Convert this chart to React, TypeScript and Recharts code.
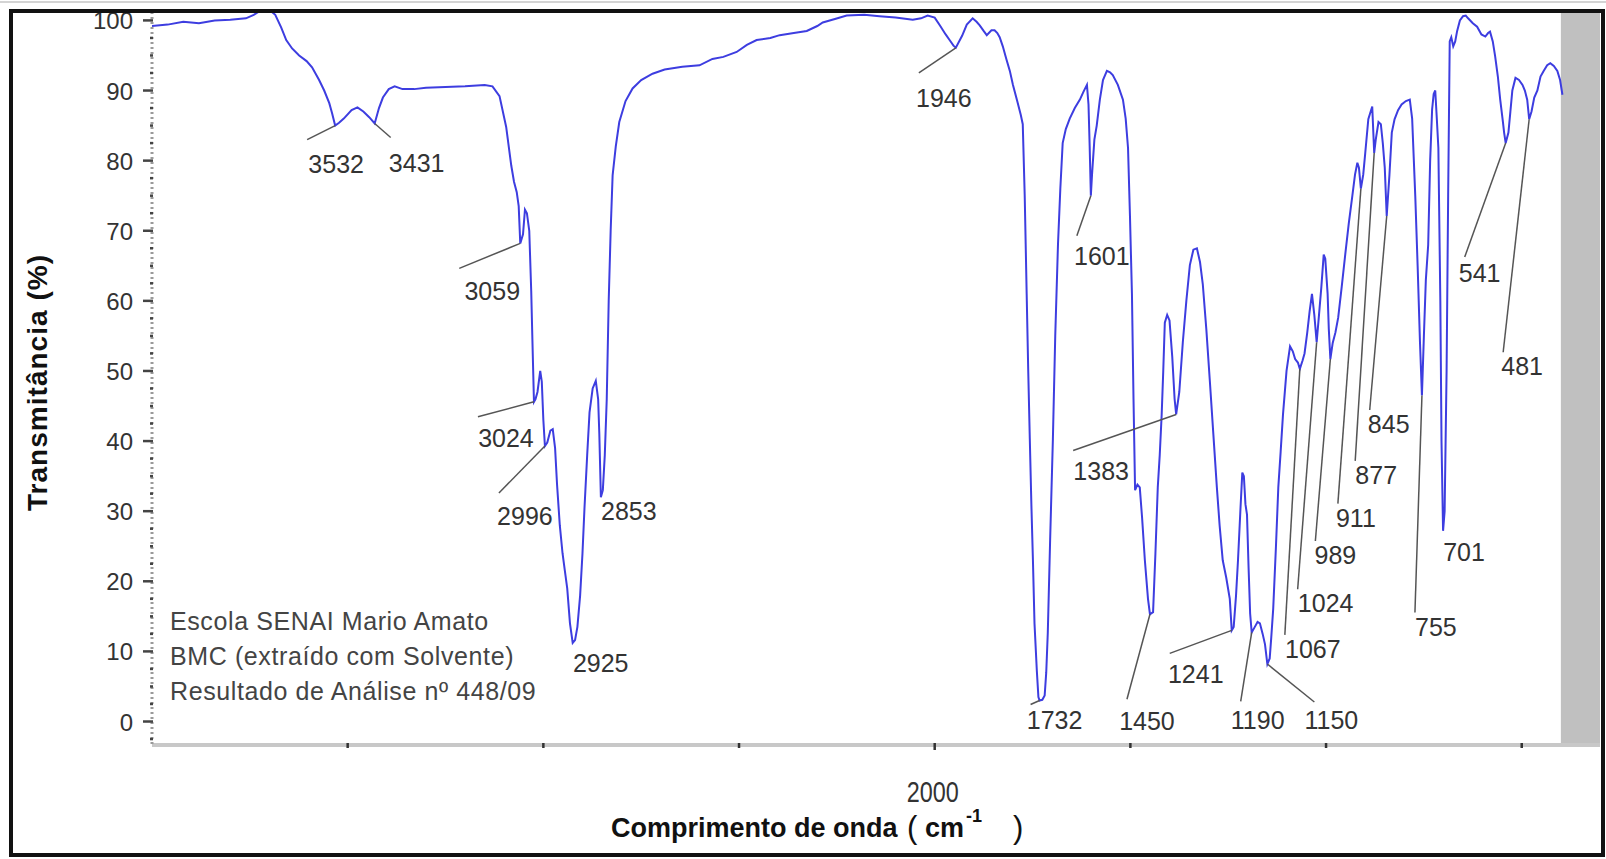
import React from "react";
import { ComposedChart, Line, Scatter, XAxis, YAxis, ReferenceArea } from "recharts";

// [wavenumber cm-1, transmittance %]
const spectrum: [number, number][] = [
  [4000, 99.2], [3960, 99.4], [3920, 99.8], [3880, 99.6], [3840, 100.0], [3800, 100.1], [3760, 100.3],
  [3740, 100.8], [3720, 101.5], [3700, 101.5], [3685, 100.8], [3670, 99.0], [3657, 97.2], [3642, 96.0],
  [3624, 95.0], [3605, 94.2], [3591, 93.3], [3573, 91.5], [3560, 90.0], [3547, 88.2], [3540, 86.8],
  [3532, 85.0], [3522, 85.4], [3510, 86.0], [3490, 87.2], [3475, 87.6], [3460, 87.0], [3445, 86.2],
  [3431, 85.3], [3420, 87.5], [3410, 89.0], [3395, 90.2], [3380, 90.6], [3360, 90.2], [3330, 90.2],
  [3300, 90.4], [3250, 90.5], [3200, 90.6], [3150, 90.8], [3130, 90.6], [3112, 89.2], [3095, 84.8],
  [3082, 79.3], [3075, 77.0], [3068, 75.5], [3063, 73.5], [3059, 68.2], [3052, 69.5], [3047, 73.0],
  [3042, 72.5], [3036, 70.0], [3031, 61.4], [3028, 54.5], [3024, 45.6], [3020, 46.0], [3015, 47.0],
  [3008, 50.0], [3004, 48.5], [3000, 43.0], [2996, 39.3], [2990, 39.8], [2982, 41.5], [2976, 41.7],
  [2970, 39.0], [2965, 33.8], [2958, 28.0], [2951, 24.0], [2945, 21.5], [2939, 19.0], [2932, 14.0],
  [2925, 11.2], [2919, 11.6], [2913, 13.5], [2906, 18.0], [2900, 24.0], [2895, 30.3], [2888, 38.0],
  [2882, 44.1], [2874, 47.5], [2866, 48.6], [2860, 46.0], [2857, 41.0], [2853, 32.0], [2848, 33.0],
  [2843, 38.0], [2838, 46.0], [2833, 60.0], [2828, 70.0], [2823, 77.9], [2815, 82.0], [2806, 85.5],
  [2790, 88.5], [2772, 90.3], [2750, 91.5], [2721, 92.4], [2690, 93.0], [2645, 93.4], [2601, 93.6],
  [2568, 94.5], [2540, 94.8], [2506, 95.5], [2480, 96.5], [2455, 97.2], [2420, 97.5], [2396, 97.9],
  [2360, 98.2], [2327, 98.5], [2300, 99.2], [2286, 99.7], [2255, 100.2], [2225, 100.7], [2180, 100.8],
  [2141, 100.6], [2100, 100.4], [2056, 100.1], [2035, 100.3], [2018, 100.7], [2000, 100.4], [1987, 99.3],
  [1972, 98.0], [1962, 97.2], [1952, 96.4], [1946, 96.1], [1930, 97.8], [1918, 99.4], [1903, 100.3],
  [1893, 99.8], [1885, 99.3], [1875, 98.5], [1867, 97.9], [1855, 98.6], [1847, 98.6], [1840, 98.2],
  [1834, 97.6], [1826, 96.3], [1817, 94.5], [1808, 92.8], [1800, 90.8], [1790, 88.7], [1780, 86.5],
  [1775, 85.2], [1770, 75.0], [1765, 61.0], [1761, 50.0], [1757, 40.3], [1753, 31.0], [1749, 23.0],
  [1745, 14.0], [1739, 7.2], [1735, 3.5], [1732, 3.0], [1725, 3.1], [1719, 3.7], [1715, 7.0],
  [1711, 12.7], [1705, 26.0], [1698, 40.3], [1692, 55.0], [1685, 68.0], [1679, 76.0], [1673, 82.5],
  [1665, 84.5], [1655, 86.0], [1642, 87.5], [1629, 88.7], [1620, 89.8], [1611, 90.8], [1607, 88.0],
  [1604, 82.0], [1601, 75.0], [1598, 78.0], [1592, 83.0], [1586, 85.0], [1578, 88.7], [1570, 91.5],
  [1560, 92.8], [1552, 92.6], [1545, 92.2], [1532, 90.8], [1519, 88.7], [1512, 86.0], [1506, 81.8],
  [1501, 72.0], [1496, 61.0], [1492, 46.0], [1488, 33.0], [1482, 33.8], [1476, 33.4], [1470, 29.0],
  [1463, 23.0], [1455, 17.5], [1450, 15.3], [1442, 15.6], [1436, 24.0], [1430, 33.4], [1425, 38.0],
  [1420, 43.8], [1416, 50.0], [1412, 56.9], [1406, 58.0], [1400, 57.2], [1393, 52.0], [1387, 46.0],
  [1383, 43.8], [1375, 47.0], [1366, 54.1], [1357, 60.0], [1348, 65.1], [1339, 67.3], [1330, 67.5],
  [1322, 65.5], [1315, 62.4], [1306, 56.0], [1297, 48.6], [1288, 41.0], [1279, 33.4], [1272, 28.0],
  [1264, 23.0], [1255, 20.5], [1246, 17.5], [1241, 13.0], [1236, 13.5], [1230, 18.0], [1225, 23.0],
  [1219, 30.0], [1214, 35.5], [1210, 35.0], [1206, 31.0], [1202, 29.5], [1198, 22.0], [1194, 15.4],
  [1190, 12.7], [1182, 13.5], [1175, 14.2], [1169, 14.0], [1162, 12.5], [1156, 11.0], [1150, 8.2],
  [1144, 9.0], [1140, 12.0], [1135, 16.1], [1128, 25.0], [1122, 33.4], [1116, 38.5], [1110, 43.8],
  [1101, 50.0], [1092, 53.5], [1085, 52.8], [1079, 51.7], [1072, 51.2], [1067, 50.3], [1060, 51.5],
  [1055, 52.5], [1048, 55.5], [1042, 58.5], [1036, 61.0], [1030, 58.0], [1024, 54.1], [1018, 58.0],
  [1012, 62.0], [1006, 66.6], [1002, 66.0], [996, 61.0], [993, 56.0], [989, 51.7], [983, 54.0],
  [976, 55.5], [969, 57.6], [960, 62.0], [951, 66.6], [942, 71.0], [933, 74.9], [926, 78.0],
  [920, 79.7], [916, 79.0], [911, 76.0], [905, 78.0], [900, 81.0], [892, 85.9], [886, 87.0],
  [882, 87.7], [877, 81.1], [873, 83.0], [866, 85.5], [860, 85.2], [855, 82.5], [850, 79.0],
  [845, 72.1], [838, 78.0], [832, 84.0], [825, 85.9], [816, 87.2], [807, 88.0], [796, 88.5],
  [786, 88.7], [780, 86.0], [772, 74.9], [766, 65.0], [760, 54.1], [755, 46.5], [750, 55.0],
  [745, 63.0], [739, 68.0], [734, 80.0], [729, 87.3], [725, 89.5], [721, 90.0], [717, 86.0],
  [713, 81.8], [708, 60.0], [705, 40.0], [701, 27.2], [697, 30.0], [692, 50.0], [688, 75.0],
  [684, 97.0], [680, 97.6], [675, 96.3], [670, 97.0], [665, 98.5], [658, 100.0], [650, 100.6],
  [643, 100.7], [637, 100.3], [625, 99.6], [614, 99.1], [603, 98.0], [593, 97.7], [586, 98.2],
  [581, 98.4], [574, 97.0], [568, 94.9], [561, 92.0], [555, 88.7], [548, 85.5], [545, 84.0],
  [541, 82.5], [534, 84.0], [529, 87.0], [524, 90.0], [516, 91.8], [507, 91.5], [498, 90.8],
  [492, 90.0], [486, 88.7], [481, 85.9], [475, 87.0], [468, 89.0], [460, 90.0], [452, 92.0],
  [444, 92.8], [435, 93.6], [427, 93.9], [418, 93.5], [409, 92.8], [402, 91.5], [396, 89.4],
];

const peakLabels = [
  3532, 3431, 3059, 3024, 2996, 2925, 2853, 1946, 1732, 1601, 1450, 1383, 1241,
  1190, 1150, 1067, 1024, 989, 911, 877, 845, 755, 701, 541, 481,
];

const xTicks = [3500, 3000, 2500, 2000, 1500, 1000, 500];
const xTickLabels = [2000];
const yTicks = [
  -2.5, 0, 2.5, 5, 7.5, 10, 12.5, 15, 17.5, 20, 22.5, 25, 27.5, 30, 32.5, 35, 37.5, 40, 42.5, 45,
  47.5, 50, 52.5, 55, 57.5, 60, 62.5, 65, 67.5, 70, 72.5, 75, 77.5, 80, 82.5, 85, 87.5, 90, 92.5,
  95, 97.5, 100,
];
const yTickLabels = [0, 10, 20, 30, 40, 50, 60, 70, 80, 90, 100];
const noteLines = [
  "Escola SENAI Mario Amato",
  "BMC (extraído com Solvente)",
  "Resultado de Análise nº 448/09",
];
const noRange = [400, 300];

// pixel offsets of each peak label from its peak: leader end and text centre
const labelLayout: Record<number, { line?: [number, number]; text: [number, number] }> = {
  3532: { line: [-28, 14], text: [1, 38] },
  3431: { line: [16, 14], text: [42, 40] },
  3059: { line: [-61, 25], text: [-28, 48] },
  3024: { line: [-56, 15], text: [-28, 36] },
  2996: { line: [-46, 47], text: [-20, 70] },
  2925: { text: [28, 20] },
  2853: { text: [28, 14] },
  1946: { line: [-37, 25], text: [-12, 50] },
  1732: { line: [-9, 4], text: [15, 20] },
  1601: { line: [-14, 40], text: [11, 60] },
  1450: { line: [-23, 85], text: [-3, 107] },
  1383: { line: [-103, 36], text: [-75, 57] },
  1241: { line: [-62, 23], text: [-36, 44] },
  1190: { line: [-11, 69], text: [6, 88] },
  1150: { line: [47, 38], text: [64, 56] },
  1067: { line: [-15, 266], text: [13, 280] },
  1024: { line: [-19, 247], text: [9, 261] },
  989: { line: [-15, 182], text: [5, 196] },
  911: { line: [-23, 315], text: [-5, 329] },
  877: { line: [-19, 308], text: [2, 322] },
  845: { line: [-17, 194], text: [2, 208] },
  755: { line: [-7, 217], text: [14, 231] },
  701: { text: [21, 21] },
  541: { line: [-41, 114], text: [-26, 130] },
  481: { line: [-26, 233], text: [-7, 247] },
};

const FONT = "'Liberation Sans', Arial, Helvetica, sans-serif";
const W = 1606;
const H = 859;

const rows = spectrum.map(([wn, t]) => ({ wn, t }));
const peakRows = peakLabels.map((p) => {
  const hit = spectrum.find(([wn]) => wn === p);
  return { wn: p, t: hit ? hit[1] : 0 };
});

function PeakMark(props: any) {
  const { cx, cy, payload } = props;
  const l = labelLayout[payload.wn];
  if (!l) return null;
  return (
    <g>
      {l.line && (
        <line x1={cx} y1={cy} x2={cx + l.line[0]} y2={cy + l.line[1]} stroke="#555" strokeWidth={1.5} />
      )}
      <text
        x={cx + l.text[0]}
        y={cy + l.text[1] + 9}
        textAnchor="middle"
        fontSize={25}
        fill="#333"
        fontFamily={FONT}
      >
        {payload.wn}
      </text>
    </g>
  );
}

function YTick(props: any) {
  const { x, y, payload } = props;
  const v = payload.value;
  const major = yTickLabels.includes(v);
  return (
    <g>
      <line x1={x - (major ? 9 : 2)} x2={x + 1} y1={y} y2={y} stroke="#444" strokeWidth={2.5} />
      {major && (
        <text x={x - 19} y={y + 9} textAnchor="end" fontSize={24} fill="#333" fontFamily={FONT}>
          {v}
        </text>
      )}
    </g>
  );
}

function XTick(props: any) {
  const { x, y, payload } = props;
  const labeled = xTickLabels.includes(payload.value);
  return (
    <g>
      <line x1={x} x2={x} y1={y - 2} y2={y + (labeled ? 5 : 3)} stroke="#333" strokeWidth={2.5} />
      {labeled && (
        <text
          x={x - 2}
          y={y + 57}
          textAnchor="middle"
          fontSize={30}
          fill="#333"
          fontFamily={FONT}
          textLength={52}
          lengthAdjust="spacingAndGlyphs"
        >
          {payload.value}
        </text>
      )}
    </g>
  );
}

export default function App() {
  return (
    <div style={{ position: "absolute", left: 0, top: 0, width: W, height: H, background: "#fff" }}>
      <ComposedChart width={W} height={H} data={rows} margin={{ top: 12, right: 6, bottom: 0, left: 0 }}>
        <XAxis
          dataKey="wn"
          type="number"
          domain={[300, 4000]}
          reversed
          allowDataOverflow
          ticks={xTicks}
          interval={0}
          height={114}
          tickSize={0}
          tickMargin={0}
          tickLine={false}
          tick={<XTick />}
          axisLine={{ stroke: "#c8c8c8", strokeWidth: 4 }}
        />
        <YAxis
          dataKey="t"
          type="number"
          domain={[-3.35, 101.2]}
          allowDataOverflow
          ticks={yTicks}
          interval={0}
          width={152}
          tickSize={0}
          tickMargin={0}
          tickLine={false}
          tick={<YTick />}
          axisLine={{ stroke: "#9a9a9a", strokeWidth: 3, strokeDasharray: "2 3" }}
        />
        <ReferenceArea x1={noRange[0]} x2={noRange[1]} fill="#c0c0c0" fillOpacity={1} stroke="none" />
        <Line
          dataKey="t"
          type="linear"
          stroke="#3d3de0"
          strokeWidth={2}
          dot={false}
          activeDot={false}
          isAnimationActive={false}
        />
        <Scatter data={peakRows} dataKey="t" shape={PeakMark} isAnimationActive={false} />
      </ComposedChart>

      <svg
        width={W}
        height={H}
        style={{ position: "absolute", left: 0, top: 0, pointerEvents: "none" }}
        fontFamily={FONT}
      >
        <text
          transform="translate(47,383) rotate(-90)"
          textAnchor="middle"
          fontSize={28}
          fontWeight="bold"
          fill="#111"
          textLength={256}
        >
          Transmitância (%)
        </text>
        <text x={611} y={837} fontSize={27} fontWeight="bold" fill="#111">
          Comprimento de onda
        </text>
        <text x={907} y={838} fontSize={31} fill="#111">(</text>
        <text x={925} y={837} fontSize={27} fontWeight="bold" fill="#111">cm</text>
        <text x={966} y={822} fontSize={18} fontWeight="bold" fill="#111">-1</text>
        <text x={1013} y={838} fontSize={31} fill="#111">)</text>
        {noteLines.map((s, i) => (
          <text key={s} x={170} y={630 + i * 35} fontSize={25} fill="#444" letterSpacing={0.6}>
            {s}
          </text>
        ))}
      </svg>

      <div style={{ position: "absolute", left: 0, top: 1, width: W, height: 2, background: "#d4d4d4" }} />
      <div
        style={{
          position: "absolute",
          left: 9,
          top: 9,
          width: 1596,
          height: 848,
          boxSizing: "border-box",
          border: "4px solid #111",
          pointerEvents: "none",
        }}
      />
    </div>
  );
}
